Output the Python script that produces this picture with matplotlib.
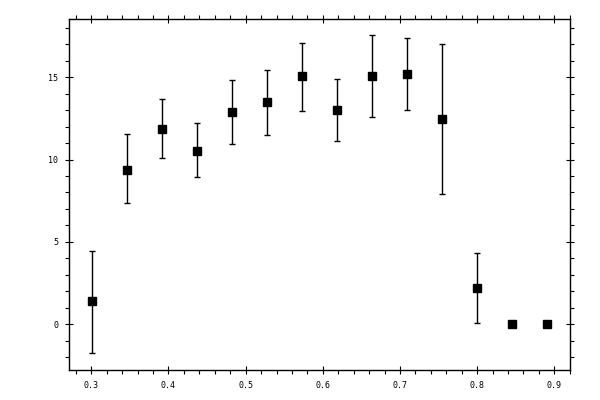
import numpy as np
import matplotlib
matplotlib.use('Agg')
from matplotlib import pyplot as plt
from matplotlib.ticker import MultipleLocator

# data
xvals = [0.3013, 0.3467, 0.392, 0.4374, 0.4827, 0.528, 0.5734,
         0.6187, 0.664, 0.7094, 0.7547, 0.8, 0.8454, 0.8907]
yvals = [1.40, 9.39, 11.84, 10.54, 12.87, 13.48, 15.06,
         12.99, 15.06, 15.18, 12.45, 2.19, 0.0, 0.0]
ylow = [-1.76, 7.38, 10.08, 8.92, 10.93, 11.47, 12.93,
        11.11, 12.57, 12.99, 7.91, 0.06, 0.0, 0.0]
yhigh = [4.47, 11.54, 13.66, 12.24, 14.81, 15.42, 17.10,
         14.88, 17.57, 17.36, 17.02, 4.33, 0.0, 0.0]

xvals = np.array(xvals)
yvals = np.array(yvals)
err = np.array([yvals - np.array(ylow), np.array(yhigh) - yvals])

fig = plt.figure(figsize=(6, 4), dpi=100)
ax = fig.add_axes([0.1158, 0.075, 0.8342, 0.8768])

ax.errorbar(xvals, yvals, yerr=err, fmt='none', ecolor='black',
            elinewidth=1.0, capsize=2.2, capthick=1.0)
ax.plot(xvals, yvals, 's', color='black', markersize=5.2, linestyle='none')

ax.set_xlim(0.2717, 0.9203)
ax.set_ylim(-2.78, 18.52)

ax.xaxis.set_major_locator(MultipleLocator(0.1))
ax.xaxis.set_minor_locator(MultipleLocator(0.02))
ax.yaxis.set_major_locator(MultipleLocator(5))
ax.yaxis.set_minor_locator(MultipleLocator(1))
ax.xaxis.set_major_formatter(plt.FuncFormatter(lambda v, p: '%.1f' % v))

ax.tick_params(which='major', direction='inout', length=6, width=0.8,
               top=True, right=True, labelsize=6, pad=5)
ax.tick_params(which='minor', direction='out', length=3, width=0.8,
               top=True, right=True)
for lab in ax.get_xticklabels() + ax.get_yticklabels():
    lab.set_family('DejaVu Sans Mono')

for s in ax.spines.values():
    s.set_linewidth(1.0)

plt.savefig('out.png', dpi=100)
